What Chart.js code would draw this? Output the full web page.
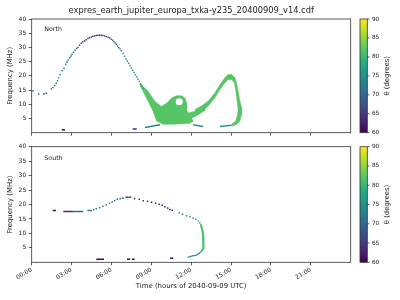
<!DOCTYPE html>
<html><head><meta charset="utf-8">
<script src="https://cdn.jsdelivr.net/npm/chart.js@4"></script>
<style>
html,body{margin:0;padding:0;background:#fff;width:400px;height:300px;overflow:hidden}
canvas{position:absolute;left:0}
</style>
</head><body>
<canvas id="top" width="400" height="140" style="top:0"></canvas>
<canvas id="bot" width="400" height="160" style="top:140px"></canvas>
<script>
// ---------- labels / ticks ----------
const TITLE = 'expres_earth_jupiter_europa_txka-y235_20400909_v14.cdf';
const X_TITLE = 'Time (hours of 2040-09-09 UTC)';
const Y_TITLE = 'Frequency (MHz)';
const CB_TITLE = 'θ (degrees)';
const X_TICK_HOURS = [0, 3, 6, 9, 12, 15, 18, 21];
const Y_TICKS = [5, 10, 15, 20, 25, 30, 35, 40];
const CB_TICKS = [60, 65, 70, 75, 80, 85, 90];
const VIRIDIS = ['#440154','#482475','#414487','#355f8d','#2a788e','#21918c','#22a884','#44bf70','#7ad151','#bddf26','#fde725'];

// ---------- NORTH panel ----------
const northDotHour  = [0.10,0.52,0.92,1.10,1.47,1.60,1.73,1.85,1.94,2.03,2.15,2.30,2.43,2.56,2.65,2.73,2.86,2.95,3.03,3.15,3.28,3.38,3.48,3.60,3.73,3.85,3.98,4.10,4.23,4.35,4.48,4.61,4.74,4.86,4.98,5.10,5.23,5.36,5.49,5.61,5.74,5.86,5.98,6.09,6.19,6.28,6.36,6.46,6.56,6.65,6.74,6.87,6.99,7.09,7.19,7.29,7.39,7.49,7.60,7.70,7.80,7.90,8.00,8.10,8.20,8.30,8.39];
const northDotFreq  = [14.7,13.6,13.6,13.9,15.4,15.9,16.6,17.4,18.3,19.2,20.4,21.8,22.7,24.1,24.9,25.6,26.4,27.0,27.6,28.3,29.0,29.6,30.1,30.8,31.5,31.9,32.3,32.7,33.1,33.4,33.7,33.9,34.0,34.2,34.3,34.3,34.3,34.2,34.0,33.8,33.6,33.3,32.9,32.5,32.0,31.6,31.1,30.5,29.9,29.4,28.8,27.9,26.9,26.0,25.2,24.4,23.6,22.8,22.0,21.2,20.4,19.6,18.8,18.0,17.2,16.4,15.6];
const northDotTheta = [68,68,67,70,73,73,73,73,73,73,73,73,73,73,73,73,72,72,72,72,71,70,69,68,67,66,66,66,66,66,66,66,66,66,66,66,66,66,66,66,67,68,70,71,72,72,73,73,73,73,74,74,74,74,74,75,75,75,75,76,76,76,76,77,77,78,78];
// short horizontal / slanted streaks: start hour, end hour, start freq, end freq, theta
const northSegH0 = [2.26, 7.60, 8.52, 12.15, 14.16];
const northSegH1 = [2.51, 7.90, 9.65, 12.90, 15.00];
const northSegF0 = [1.05, 1.30, 1.86, 2.80, 2.20];
const northSegF1 = [1.05, 1.30, 2.80, 2.20, 2.60];
const northSegTheta = [60.5, 64, 73, 76, 76];
// dense emission: body with left arm and head (outline)
const northBodyHour = [8.14,8.77,9.27,9.77,10.15,10.53,10.90,11.28,11.53,11.65,11.65,11.77,12.28,13.03,13.03,12.41,12.03,12.15,11.90,10.65,9.89,9.65,9.40,9.14,8.77,8.39,8.12];
const northBodyFreq = [17.4,14.5,11.0,9.2,10.4,12.2,13.0,13.0,12.2,10.4,8.1,6.9,7.5,9.2,7.8,6.0,5.2,4.0,3.3,3.0,3.0,3.6,4.0,7.5,11.0,14.5,16.9];
const northBodyTheta = 82;
// dense emission: right arm and loop (outer edge out, inner edge back)
const northLoopHour = [12.29,12.78,13.28,13.78,14.16,14.53,14.78,15.04,15.29,15.41,15.53,15.66,15.79,15.79,15.66,15.41,15.04,15.04,15.34,15.49,15.53,15.46,15.36,15.26,15.04,14.78,14.53,14.16,13.78,13.28,12.78,12.29];
const northLoopFreq = [8.2,9.4,11.1,14.0,16.9,19.3,20.5,20.5,19.3,17.5,14.6,11.1,8.8,6.4,4.1,2.9,2.3,3.0,4.0,6.4,8.2,11.1,14.6,17.5,18.7,18.7,17.5,15.2,12.3,9.4,7.6,6.4];
const northLoopTheta = 82;
// empty hole inside the head
const northHoleHour = [11.10];
const northHoleFreq = [10.9];

// ---------- SOUTH panel ----------
const southDotHour  = [4.66,4.86,5.11,5.36,5.61,5.86,6.06,6.24,6.44,6.66,6.86,7.11,7.22,7.33,7.44,7.74,8.09,8.39,8.72,9.02,9.32,9.59,9.82,10.02,10.23,10.40,10.57,11.10,11.35,11.65,11.90,12.15,12.35,12.53,12.65];
const southDotFreq  = [18.2,18.5,18.9,19.4,19.8,20.4,20.9,21.3,21.8,22.0,22.2,22.5,22.5,22.5,22.5,22.1,21.8,21.3,21.1,20.8,20.4,20.1,19.7,19.2,18.8,18.3,18.0,17.1,16.6,16.1,15.8,15.3,14.9,14.3,13.7];
const southDotTheta = [74,74,73,73,72,72,71,70,69,68,67,66,66,66,66,65,64,63,63,63,63,63,62,62,62,62,62,70,72,74,75,76,77,78,79];
const southSegH0 = [1.58, 2.38, 3.10, 4.18, 4.86, 7.17, 7.54, 10.40];
const southSegH1 = [1.83, 3.10, 3.88, 4.53, 5.44, 7.41, 7.74, 10.65];
const southSegF0 = [17.9, 17.6, 17.6, 17.9, 1.05, 1.05, 1.05, 1.40];
const southSegF1 = [17.9, 17.6, 17.6, 17.9, 1.05, 1.05, 1.05, 1.40];
const southSegTheta = [61, 63, 71, 74, 60.5, 60.5, 60.5, 61.5];
// near-vertical dense track
const southBandHour = [12.72,12.80,12.86,12.90,12.93,12.93,12.90,12.78];
const southBandFreq = [13.2,11.8,10.6,8.9,6.6,5.5,4.8,3.9];
const southBandTheta = 81;
const southTailHour = [12.78,12.60,12.40,12.10,11.73];
const southTailFreq = [3.9,3.1,2.5,2.2,1.7];
const southTailTheta = 76;

// ---------- helpers ----------
function hexRgb(h){return [1,3,5].map(i=>parseInt(h.substr(i,2),16));}
function viridis(theta){
  let t=(theta-60)/30; t=Math.max(0,Math.min(1,t));
  const p=t*(VIRIDIS.length-1); const i=Math.min(Math.floor(p),VIRIDIS.length-2); const f=p-i;
  const a=hexRgb(VIRIDIS[i]), b=hexRgb(VIRIDIS[i+1]);
  const c=a.map((v,k)=>Math.round(v+(b[k]-v)*f));
  return `rgb(${c[0]},${c[1]},${c[2]})`;
}
const pts=(hs,fs)=>hs.map((h,i)=>({x:h,y:fs[i]}));

function polygon(hs,fs,theta){
  const c=viridis(theta);
  return {data:pts(hs,fs),showLine:true,fill:'shape',backgroundColor:c,borderColor:c,borderWidth:0.6,pointRadius:0,tension:0,order:5};
}
function track(hs,fs,theta,w){
  const c=viridis(theta);
  return {data:pts(hs,fs),showLine:true,fill:false,borderColor:c,backgroundColor:c,borderWidth:w,pointRadius:0,tension:0,order:4};
}
function segments(h0,h1,f0,f1,th){
  return h0.map((h,i)=>track([h,h1[i]],[f0[i],f1[i]],th[i],1.5));
}
function dots(hs,fs,ths){
  return {data:pts(hs,fs),showLine:false,pointStyle:'rect',pointRadius:1.05,pointBorderWidth:0,
    pointBackgroundColor:ths.map(viridis),pointBorderColor:ths.map(viridis),order:3};
}

Chart.defaults.font.family='"DejaVu Sans", sans-serif';
Chart.defaults.color='#222';

const decor={
  id:'decor',
  afterDraw(chart,args,o){
    const {ctx,chartArea:a}=chart;
    ctx.save();
    ctx.strokeStyle='#333';ctx.lineWidth=0.8;
    ctx.strokeRect(a.left,a.top,a.right-a.left,a.bottom-a.top);
    ctx.fillStyle='#222';
    ctx.font='6.3px "DejaVu Sans"';ctx.textAlign='left';ctx.textBaseline='middle';
    ctx.fillText(o.label,a.left+12.6,a.top+o.labelDy);
    // colorbar
    const x0=360,w=7.3,h=a.bottom-a.top;
    const g=ctx.createLinearGradient(0,a.bottom,0,a.top);
    VIRIDIS.forEach((c,i)=>g.addColorStop(i/(VIRIDIS.length-1),c));
    ctx.fillStyle=g;ctx.fillRect(x0,a.top,w,h);
    ctx.strokeRect(x0,a.top,w,h);
    ctx.fillStyle='#222';ctx.font='5.8px "DejaVu Sans"';
    CB_TICKS.forEach(v=>{
      const y=a.bottom-(v-60)/30*h;
      ctx.beginPath();ctx.moveTo(x0+w,y);ctx.lineTo(x0+w+2.2,y);ctx.stroke();
      ctx.fillText(String(v),x0+w+4.6,y);
    });
    ctx.font='6.9px "DejaVu Sans"';ctx.textAlign='center';
    ctx.save();ctx.translate(387.5,(a.top+a.bottom)/2);ctx.rotate(-Math.PI/2);ctx.fillText(CB_TITLE,0,0);ctx.restore();
    ctx.save();ctx.translate(10,(a.top+a.bottom)/2);ctx.rotate(-Math.PI/2);ctx.fillText(Y_TITLE,0,0);ctx.restore();
    if(o.title){ctx.font='8.3px "DejaVu Sans"';ctx.fillText(TITLE,(a.left+a.right)/2,11);}
    if(o.xtitle){ctx.fillText(X_TITLE,(a.left+a.right)/2,146.7);}
    ctx.restore();
  }
};

function makeChart(id,datasets,opt){
  return new Chart(document.getElementById(id),{
    type:'scatter',
    data:{datasets},
    options:{
      responsive:false,animation:false,events:[],
      layout:{padding:{left:0,right:49.3,top:opt.padTop,bottom:0}},
      plugins:{legend:{display:false},tooltip:{enabled:false},decor:opt.decor},
      scales:{
        x:{type:'linear',min:0,max:24,
          afterBuildTicks:s=>{s.ticks=X_TICK_HOURS.map(v=>({value:v}));},
          afterFit:s=>{s.height=opt.xH;},
          ticks:{display:opt.showX,autoSkip:false,minRotation:30,maxRotation:30,padding:1,font:{size:6},
            callback:v=>String(v).padStart(2,'0')+':00'},
          grid:{drawOnChartArea:false,tickLength:3,color:'#333',lineWidth:0.8},
          border:{display:false}},
        y:{min:0,max:40,
          afterBuildTicks:s=>{s.ticks=Y_TICKS.map(v=>({value:v}));},
          afterFit:s=>{s.width=31.7;},
          ticks:{padding:2.5,font:{size:6}},
          grid:{drawOnChartArea:false,tickLength:3,color:'#333',lineWidth:0.8},
          border:{display:false}}
      }
    },
    plugins:[decor]
  });
}

const northSets=[
  {data:pts(northHoleHour,northHoleFreq),showLine:false,pointStyle:'circle',pointRadius:3.5,pointBorderWidth:0,pointBackgroundColor:'#ffffff',order:0},
  dots(northDotHour,northDotFreq,northDotTheta),
  ...segments(northSegH0,northSegH1,northSegF0,northSegF1,northSegTheta),
  polygon(northBodyHour,northBodyFreq,northBodyTheta),
  polygon(northLoopHour,northLoopFreq,northLoopTheta)
];
const southSets=[
  dots(southDotHour,southDotFreq,southDotTheta),
  ...segments(southSegH0,southSegH1,southSegF0,southSegF1,southSegTheta),
  track(southBandHour,southBandFreq,southBandTheta,2.1),
  track(southTailHour,southTailFreq,southTailTheta,1.2)
];

makeChart('top',northSets,{padTop:19,xH:7.3,showX:false,decor:{label:'North',labelDy:10.3,title:true}});
makeChart('bot',southSets,{padTop:6.7,xH:37.7,showX:true,decor:{label:'South',labelDy:11.3,xtitle:true}});
</script>
</body></html>
